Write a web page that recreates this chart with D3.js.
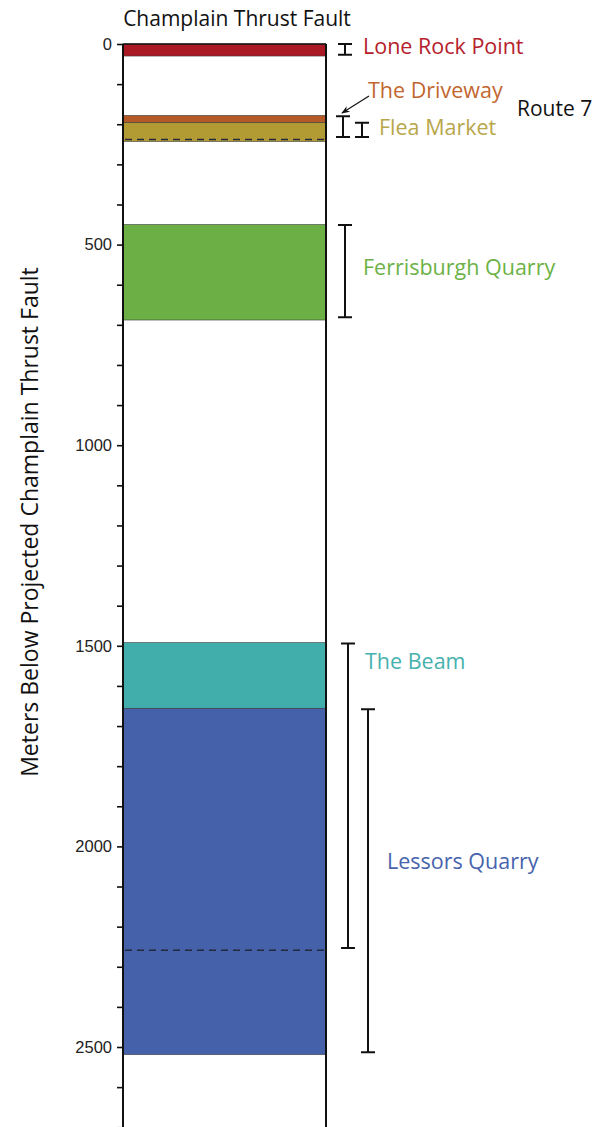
<!DOCTYPE html>
<html>
<head>
<meta charset="utf-8">
<script src="https://cdn.jsdelivr.net/npm/d3@7"></script>
<style>
  html, body { margin: 0; padding: 0; background: #fff; }
  svg { display: block; font-family: "Open Sans", "Noto Sans", sans-serif; }
</style>
</head>
<body>
<svg id="chart" width="596" height="1127"></svg>
<script>
// Stratigraphic units (depth in metres below the projected thrust fault)
const units = ["Lone Rock Point", "The Driveway", "Flea Market", "Ferrisburgh Quarry", "The Beam", "Lessors Quarry"];
const unitTop = [0, 178, 196, 450, 1492, 1656];
const unitBase = [30, 196, 243, 688, 1656, 2519];
// Sampled interval for each locality
const rangeTop = [0, 180, 196, 451, 1494, 1658];
const rangeBase = [27, 232, 232, 681, 2253, 2513];
// Internal boundaries drawn dashed
const dashedDepths = [238, 2259];
// Axis
const majorTicks = [0, 500, 1000, 1500, 2000, 2500];
const minorTicks = d3.range(0, 2701, 100);
const title = "Champlain Thrust Fault";
const yTitle = "Meters Below Projected Champlain Thrust Fault";
const roadLabel = "Route 7";

// Styling
const fills = ["#ab1a24", "#b55a27", "#b39b34", "#6caf45", "#41aeab", "#4461a9"];
const textColors = ["#b5202c", "#c2662f", "#b8a64a", "#6cb246", "#46b1ae", "#4763ad"];
// Label placement: x and depth (m) at which the baseline sits
const labelX = [363, 368, 379, 363, 365, 387];
const labelDepth = [25, 135, 227, 576, 1558, 2057];
const bracketX = [345, 343, 362, 345, 348, 368];

const svg = d3.select("#chart");
const colLeft = 123, colRight = 326;
const y = d3.scaleLinear().domain([0, 2700]).range([44, 44 + 2700 * 0.4012]);

// Unit blocks
svg.append("g").selectAll("rect").data(units).join("rect")
  .attr("x", colLeft).attr("width", colRight - colLeft)
  .attr("y", (d, i) => y(unitTop[i]))
  .attr("height", (d, i) => y(unitBase[i]) - y(unitTop[i]))
  .attr("fill", (d, i) => fills[i])
  .attr("stroke", "rgba(60,60,60,0.75)").attr("stroke-width", 0.8);

// Dashed internal contacts
svg.append("g").selectAll("line").data(dashedDepths).join("line")
  .attr("x1", colLeft + 2).attr("x2", colRight - 1)
  .attr("y1", d => y(d)).attr("y2", d => y(d))
  .attr("stroke", "#25283a").attr("stroke-width", 1.6)
  .attr("stroke-dasharray", "7,5");

// Column frame
svg.append("line").attr("x1", colRight).attr("x2", colRight)
  .attr("y1", y(0)).attr("y2", 1127).attr("stroke", "#111").attr("stroke-width", 2);
svg.append("line").attr("x1", colLeft).attr("x2", colRight)
  .attr("y1", y(0)).attr("y2", y(0)).attr("stroke", "#111").attr("stroke-width", 1.6);

// Depth axis
const axisG = svg.append("g").attr("transform", `translate(${colLeft},0)`);
axisG.call(d3.axisLeft(y).tickValues(minorTicks).tickSize(6).tickFormat(""))
  .call(g => g.select(".domain").attr("stroke", "#111").attr("stroke-width", 2)
    .attr("d", `M0,${y(0)}V1127`))
  .call(g => g.selectAll(".tick line").attr("stroke", "#111").attr("stroke-width", 1.6));
axisG.selectAll("text.major").data(majorTicks).join("text")
  .attr("class", "major")
  .attr("x", -11).attr("y", d => y(d)).attr("dy", "0.35em")
  .attr("text-anchor", "end").attr("font-size", 16.5).attr("fill", "#222")
  .text(d => d);

// Titles
svg.append("text").attr("x", 237).attr("y", 26).attr("text-anchor", "middle")
  .attr("font-size", 21).attr("fill", "#111").text(title);
svg.append("text").attr("transform", "translate(38,522) rotate(-90)")
  .attr("text-anchor", "middle").attr("font-size", 23).attr("fill", "#111").text(yTitle);

// Sampled-interval brackets
const capHalf = 7;
const br = svg.append("g").attr("stroke", "#111").attr("stroke-width", 2).attr("fill", "none");
units.forEach((u, i) => {
  const x = bracketX[i], t = y(rangeTop[i]), b = y(rangeBase[i]);
  br.append("path").attr("d",
    `M${x - capHalf},${t}H${x + capHalf}M${x},${t}V${b}M${x - capHalf},${b}H${x + capHalf}`);
});

// Unit labels
svg.append("g").selectAll("text").data(units).join("text")
  .attr("x", (d, i) => labelX[i]).attr("y", (d, i) => y(labelDepth[i]))
  .attr("font-size", 21.5).attr("fill", (d, i) => textColors[i]).text(d => d);

svg.append("text").attr("x", 517).attr("y", 116).attr("font-size", 21)
  .attr("fill", "#111").text(roadLabel);

// Arrow from the Driveway label to its bracket
svg.append("defs").append("marker").attr("id", "arrow")
  .attr("viewBox", "0 0 10 10").attr("refX", 9).attr("refY", 5)
  .attr("markerWidth", 7).attr("markerHeight", 7).attr("orient", "auto")
  .append("path").attr("d", "M0,1L10,5L0,9L3,5Z").attr("fill", "#111");
svg.append("line").attr("x1", 369).attr("y1", 96).attr("x2", 342).attr("y2", 113)
  .attr("stroke", "#111").attr("stroke-width", 1.2).attr("marker-end", "url(#arrow)");
</script>
</body>
</html>
